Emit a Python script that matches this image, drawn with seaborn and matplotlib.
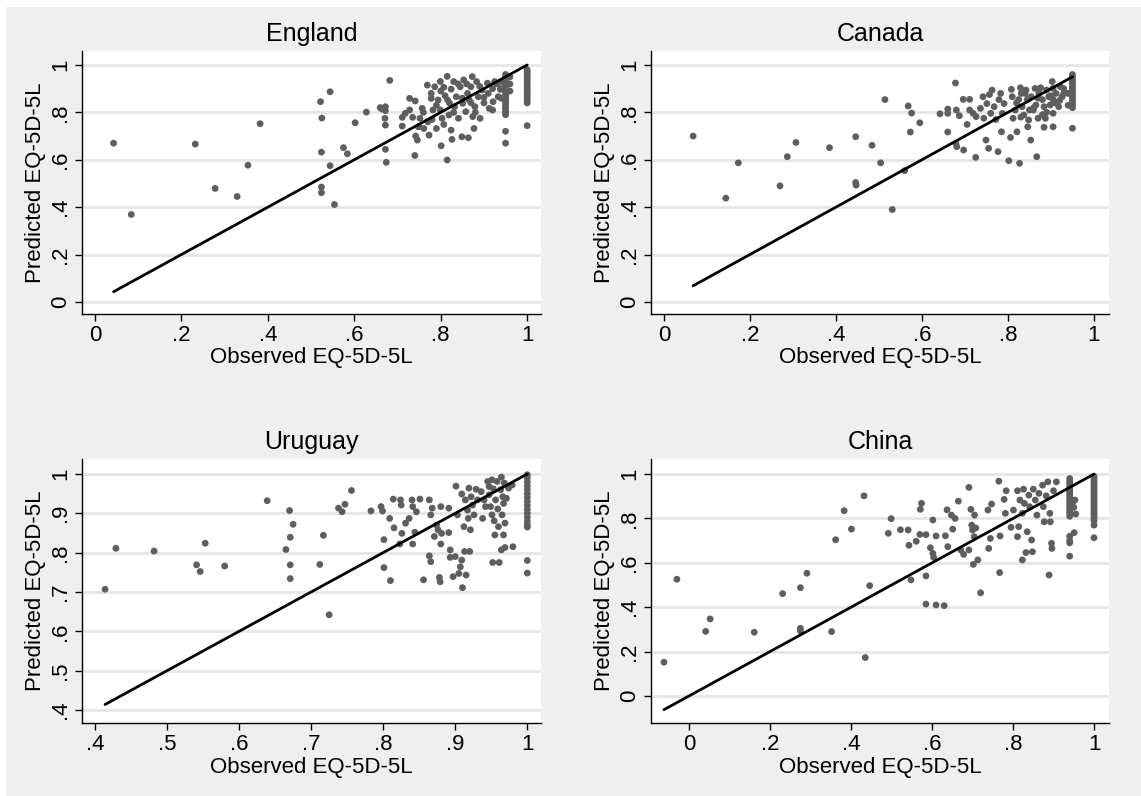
import matplotlib
matplotlib.use("Agg")
import matplotlib.pyplot as plt
import seaborn as sns
import pandas as pd
from matplotlib.patches import Rectangle

sns.set_theme(style="white")
plt.rcParams['font.family'] = ['Liberation Sans', 'DejaVu Sans']

countries = ["England", "Canada", "Uruguay", "China"]

# ---------------- England ----------------
england_obs = [0.043, 0.084, 0.232, 0.278, 0.329, 0.354, 0.382,
               0.522, 0.525, 0.524, 0.524, 0.524, 0.544, 0.544, 0.554, 0.575, 0.584, 0.602, 0.628,
               0.660, 0.664, 0.672, 0.672, 0.671, 0.672, 0.672, 0.674, 0.682,
               0.711, 0.711, 0.718, 0.728, 0.728, 0.735, 0.740, 0.741, 0.742, 0.746, 0.748, 0.752,
               0.757, 0.761, 0.769, 0.773, 0.778, 0.778, 0.782, 0.786, 0.790, 0.794, 0.799, 0.799,
               0.801, 0.803, 0.807, 0.807, 0.815, 0.815, 0.816, 0.819, 0.824, 0.824, 0.826, 0.830,
               0.832, 0.836, 0.841, 0.845, 0.849, 0.851, 0.853, 0.858, 0.862, 0.864, 0.866, 0.870,
               0.873, 0.874, 0.877, 0.879, 0.883, 0.887, 0.891, 0.896, 0.900, 0.908, 0.912, 0.921,
               0.925, 0.933, 0.938,
               0.76, 0.79, 0.81, 0.83, 0.85, 0.87, 0.89, 0.90, 0.92, 0.93, 0.80, 0.84, 0.86, 0.82,
               0.88, 0.91, 0.77, 0.75, 0.78, 0.92,
               0.95, 0.95, 0.95, 0.95, 0.95, 0.95, 0.95, 0.95, 0.95, 0.95, 0.95, 0.95, 0.95, 0.95,
               0.95, 0.95, 0.95, 0.95, 0.95, 0.95, 0.94, 0.94, 0.94, 0.96, 0.96, 0.96,
               1.0, 1.0, 1.0, 1.0, 1.0, 1.0, 1.0, 1.0, 1.0, 1.0, 1.0, 1.0, 1.0, 1.0, 1.0, 1.0]
england_pred = [0.670, 0.369, 0.666, 0.479, 0.445, 0.577, 0.752,
                0.845, 0.776, 0.632, 0.485, 0.461, 0.887, 0.575, 0.411, 0.651, 0.625, 0.756, 0.801,
                0.820, 0.814, 0.824, 0.807, 0.775, 0.746, 0.644, 0.589, 0.935,
                0.742, 0.779, 0.796, 0.859, 0.810, 0.779, 0.618, 0.848, 0.700, 0.683, 0.739, 0.775,
                0.817, 0.732, 0.915, 0.704, 0.880, 0.859, 0.810, 0.908, 0.732, 0.852, 0.930, 0.810,
                0.659, 0.775, 0.906, 0.749, 0.952, 0.599, 0.852, 0.789, 0.898, 0.725, 0.686, 0.930,
                0.824, 0.866, 0.775, 0.908, 0.697, 0.838, 0.937, 0.803, 0.880, 0.693, 0.852, 0.908,
                0.951, 0.782, 0.732, 0.824, 0.930, 0.866, 0.775, 0.894, 0.863, 0.923, 0.817, 0.845,
                0.930, 0.866, 0.897,
                0.80, 0.83, 0.87, 0.80, 0.86, 0.84, 0.91, 0.84, 0.90, 0.92, 0.89, 0.92, 0.92, 0.84,
                0.80, 0.88, 0.76, 0.74, 0.77, 0.81,
                0.96, 0.95, 0.94, 0.93, 0.92, 0.91, 0.90, 0.89, 0.88, 0.87, 0.86, 0.85, 0.84, 0.83,
                0.82, 0.81, 0.80, 0.79, 0.72, 0.67, 0.93, 0.90, 0.86, 0.95, 0.92, 0.89,
                0.98, 0.97, 0.96, 0.95, 0.94, 0.93, 0.92, 0.91, 0.90, 0.89, 0.88, 0.87, 0.86, 0.85, 0.84, 0.744]

# ---------------- Canada ----------------
canada_obs = [0.068, 0.144, 0.173, 0.270, 0.287, 0.307, 0.385, 0.446, 0.446, 0.447, 0.484, 0.504,
              0.514, 0.531, 0.560, 0.568, 0.576, 0.573, 0.595, 0.642, 0.660, 0.660, 0.660, 0.678,
              0.679, 0.681, 0.680, 0.687, 0.696, 0.697, 0.705, 0.711, 0.711, 0.719, 0.725, 0.726,
              0.736, 0.742, 0.744, 0.749, 0.751, 0.755, 0.757, 0.760, 0.763, 0.768, 0.772, 0.777,
              0.779, 0.783, 0.785, 0.787, 0.791, 0.802, 0.806, 0.808, 0.810, 0.812, 0.817, 0.821,
              0.825, 0.827, 0.829, 0.831, 0.833, 0.837, 0.842, 0.845, 0.846, 0.848, 0.853, 0.854,
              0.859, 0.863, 0.865, 0.867, 0.870, 0.872, 0.876, 0.880, 0.884, 0.884, 0.887, 0.890,
              0.895, 0.898, 0.903, 0.905, 0.905, 0.905, 0.905, 0.912, 0.918, 0.922, 0.926, 0.930,
              0.82, 0.84, 0.86, 0.88, 0.90, 0.92, 0.83, 0.85, 0.87, 0.89, 0.91, 0.93, 0.94, 0.94,
              0.95, 0.95, 0.95, 0.95, 0.95, 0.95, 0.95, 0.95, 0.95, 0.95, 0.95, 0.95, 0.95, 0.95,
              0.95, 0.95]
canada_pred = [0.700, 0.438, 0.587, 0.490, 0.613, 0.673, 0.651, 0.697, 0.504, 0.493, 0.661, 0.587,
               0.854, 0.390, 0.554, 0.827, 0.797, 0.717, 0.756, 0.794, 0.814, 0.796, 0.717, 0.924,
               0.669, 0.655, 0.810, 0.786, 0.855, 0.641, 0.749, 0.855, 0.810, 0.796, 0.610, 0.782,
               0.817, 0.866, 0.775, 0.683, 0.837, 0.648, 0.875, 0.796, 0.894, 0.824, 0.770, 0.634,
               0.854, 0.880, 0.718, 0.796, 0.837, 0.596, 0.694, 0.897, 0.866, 0.775, 0.810, 0.718,
               0.854, 0.585, 0.904, 0.880, 0.824, 0.789, 0.894, 0.854, 0.739, 0.768, 0.683, 0.866,
               0.810, 0.901, 0.831, 0.613, 0.775, 0.880, 0.904, 0.854, 0.824, 0.737, 0.775, 0.894,
               0.866, 0.831, 0.930, 0.901, 0.854, 0.796, 0.739, 0.880, 0.824, 0.908, 0.866, 0.880,
               0.84, 0.88, 0.82, 0.79, 0.87, 0.85, 0.78, 0.81, 0.86, 0.80, 0.84, 0.90, 0.88, 0.83,
               0.96, 0.95, 0.94, 0.93, 0.92, 0.91, 0.90, 0.89, 0.88, 0.87, 0.86, 0.85, 0.84, 0.83,
               0.82, 0.733]

# ---------------- Uruguay ----------------
uruguay_obs = [0.414, 0.429, 0.482, 0.541, 0.546, 0.553, 0.580, 0.639, 0.665, 0.670, 0.671, 0.671,
               0.671, 0.675, 0.712, 0.717, 0.725, 0.738, 0.743, 0.747, 0.756, 0.783, 0.797, 0.799,
               0.801, 0.801, 0.809, 0.810, 0.814, 0.815, 0.823, 0.824, 0.825, 0.826, 0.831, 0.836,
               0.840, 0.841, 0.841, 0.844, 0.846, 0.851, 0.856, 0.864, 0.864, 0.866, 0.866, 0.868,
               0.871, 0.874, 0.876, 0.878, 0.879, 0.880, 0.880, 0.881, 0.891, 0.891, 0.893, 0.893,
               0.897, 0.900, 0.901, 0.903, 0.905, 0.907, 0.909, 0.910, 0.909, 0.912, 0.913, 0.914,
               0.915, 0.917, 0.918, 0.919, 0.920, 0.921, 0.922, 0.924, 0.926, 0.929, 0.931, 0.936,
               0.938, 0.940, 0.942, 0.945, 0.947, 0.947, 0.949, 0.951, 0.951, 0.952, 0.953, 0.954,
               0.955, 0.956, 0.958, 0.959, 0.960, 0.961, 0.963, 0.964, 0.964, 0.965, 0.966, 0.967,
               0.968, 0.969, 0.969, 0.971, 0.974, 0.967, 0.979, 0.980,
               1.0, 1.0, 1.0, 1.0, 1.0, 1.0, 1.0, 1.0, 1.0, 1.0, 1.0, 1.0, 1.0, 1.0, 1.0, 1.0, 1.0]
uruguay_pred = [0.707, 0.811, 0.804, 0.769, 0.752, 0.824, 0.766, 0.932, 0.808, 0.907, 0.839, 0.769,
                0.734, 0.872, 0.770, 0.844, 0.642, 0.913, 0.904, 0.923, 0.958, 0.906, 0.917, 0.906,
                0.833, 0.762, 0.887, 0.729, 0.936, 0.863, 0.822, 0.934, 0.921, 0.849, 0.875, 0.887,
                0.934, 0.917, 0.822, 0.852, 0.904, 0.936, 0.731, 0.934, 0.792, 0.777, 0.896, 0.913,
                0.841, 0.870, 0.858, 0.737, 0.726, 0.917, 0.822, 0.849, 0.913, 0.851, 0.807, 0.788,
                0.739, 0.790, 0.969, 0.896, 0.747, 0.764, 0.781, 0.711, 0.949, 0.866, 0.803, 0.934,
                0.743, 0.908, 0.887, 0.964, 0.803, 0.858, 0.942, 0.921, 0.896, 0.961, 0.934, 0.955,
                0.887, 0.934, 0.917, 0.981, 0.947, 0.968, 0.917, 0.985, 0.896, 0.775, 0.962, 0.881,
                0.845, 0.934, 0.981, 0.911, 0.866, 0.775, 0.960, 0.992, 0.807, 0.896, 0.942, 0.845,
                0.977, 0.875, 0.813, 0.938, 0.964, 0.925, 0.972, 0.815,
                0.998, 0.99, 0.98, 0.97, 0.96, 0.95, 0.94, 0.93, 0.92, 0.91, 0.90, 0.89, 0.88, 0.87,
                0.865, 0.78, 0.748]

# ---------------- China ----------------
china_obs = [-0.062, -0.030, 0.041, 0.052, 0.161, 0.231, 0.275, 0.275, 0.275, 0.291, 0.352, 0.362,
             0.383, 0.401, 0.432, 0.435, 0.446, 0.492, 0.499, 0.522, 0.541, 0.543, 0.548, 0.561,
             0.571, 0.574, 0.570, 0.585, 0.585, 0.585, 0.596, 0.602, 0.602, 0.604, 0.610, 0.610,
             0.630, 0.633, 0.637, 0.639, 0.648, 0.651, 0.657, 0.665, 0.671, 0.678, 0.691, 0.691,
             0.696, 0.698, 0.700, 0.702, 0.704, 0.705, 0.708, 0.713, 0.720, 0.738, 0.740, 0.744,
             0.747, 0.765, 0.767, 0.768, 0.778, 0.781, 0.783, 0.795, 0.801, 0.811, 0.811, 0.814,
             0.817, 0.823, 0.823, 0.826, 0.828, 0.832, 0.835, 0.839, 0.841, 0.846, 0.848, 0.850,
             0.855, 0.859, 0.864, 0.873, 0.875, 0.877, 0.882, 0.886, 0.889, 0.891, 0.892, 0.895,
             0.896, 0.900, 0.907, 0.951, 0.953, 0.95, 0.955, 0.95, 0.945,
             0.94, 0.94, 0.94, 0.94, 0.94, 0.94, 0.94, 0.94, 0.94, 0.94, 0.94, 0.94, 0.94, 0.94,
             0.94, 0.94, 0.94, 0.94, 0.94, 0.94, 0.94, 0.94,
             1.0, 1.0, 1.0, 1.0, 1.0, 1.0, 1.0, 1.0, 1.0, 1.0, 1.0, 1.0, 1.0, 1.0, 1.0, 1.0, 1.0,
             1.0, 1.0, 1.0, 1.0, 1.0, 1.0]
china_pred = [0.152, 0.526, 0.291, 0.347, 0.287, 0.461, 0.488, 0.305, 0.293, 0.553, 0.290, 0.704,
              0.835, 0.752, 0.902, 0.173, 0.497, 0.733, 0.799, 0.749, 0.748, 0.679, 0.523, 0.697,
              0.841, 0.868, 0.728, 0.727, 0.541, 0.414, 0.668, 0.793, 0.643, 0.625, 0.721, 0.410,
              0.407, 0.722, 0.839, 0.673, 0.815, 0.752, 0.800, 0.878, 0.658, 0.638, 0.940, 0.658,
              0.841, 0.770, 0.748, 0.593, 0.718, 0.815, 0.757, 0.613, 0.465, 0.838, 0.665, 0.710,
              0.865, 0.968, 0.556, 0.721, 0.886, 0.823, 0.925, 0.760, 0.838, 0.925, 0.718, 0.763,
              0.883, 0.613, 0.823, 0.932, 0.868, 0.646, 0.740, 0.905, 0.853, 0.703, 0.650, 0.932,
              0.883, 0.815, 0.913, 0.950, 0.853, 0.785, 0.902, 0.965, 0.545, 0.823, 0.785, 0.688,
              0.665, 0.925, 0.965, 0.736, 0.883, 0.85, 0.82, 0.88, 0.86,
              0.98, 0.97, 0.96, 0.95, 0.94, 0.93, 0.92, 0.91, 0.90, 0.89, 0.88, 0.87, 0.86, 0.85,
              0.84, 0.83, 0.82, 0.81, 0.72, 0.70, 0.69, 0.63,
              0.99, 0.98, 0.97, 0.96, 0.95, 0.94, 0.93, 0.92, 0.91, 0.90, 0.89, 0.88, 0.87, 0.86,
              0.85, 0.84, 0.83, 0.82, 0.81, 0.80, 0.79, 0.77, 0.713]

# tick values and axis ranges
ticks_01 = [0, 0.2, 0.4, 0.6, 0.8, 1.0]
ticks_uy = [0.4, 0.5, 0.6, 0.7, 0.8, 0.9, 1.0]

panels = {
    "England": dict(obs=england_obs, pred=england_pred, xt=ticks_01, yt=ticks_01,
                    xlim=(-0.030, 1.032), ylim=(-0.051, 1.059),
                    pos=[82, 314, 459, 263]),
    "Canada": dict(obs=canada_obs, pred=canada_pred, xt=ticks_01, yt=ticks_01,
                   xlim=(-0.030, 1.035), ylim=(-0.051, 1.059),
                   pos=[651, 314, 458, 263]),
    "Uruguay": dict(obs=uruguay_obs, pred=uruguay_pred, xt=ticks_uy, yt=ticks_uy,
                    xlim=(0.382, 1.019), ylim=(0.367, 1.038),
                    pos=[82, 723, 459, 264]),
    "China": dict(obs=china_obs, pred=china_pred, xt=ticks_01, yt=ticks_01,
                  xlim=(-0.094, 1.037), ylim=(-0.122, 1.068),
                  pos=[651, 723, 458, 264]),
}


def stata_fmt(v):
    s = f"{v:g}"
    if s.startswith("0."):
        s = s[1:]
    return s


W, H = 1141, 796
fig = plt.figure(figsize=(W / 100, H / 100), dpi=100)
fig.patch.set_facecolor("white")
fig.patches.append(Rectangle((6 / W, 0), 1, (H - 7) / H, transform=fig.transFigure,
                             facecolor="#efefef", edgecolor="none", zorder=-10))

for name in countries:
    p = panels[name]
    l, b, w, h = p["pos"]
    ax = fig.add_axes([l / W, 1 - b / H, w / W, h / H])
    ax.set_facecolor("white")
    df = pd.DataFrame({"obs": p["obs"], "pred": p["pred"]})
    sns.scatterplot(data=df, x="obs", y="pred", ax=ax, color="#5e5e5e", s=24,
                    edgecolor="none", linewidth=0, zorder=3)
    lo, hi = min(p["obs"]), max(p["obs"])
    line_df = pd.DataFrame({"x": [lo, hi], "y": [lo, hi]})
    sns.lineplot(data=line_df, x="x", y="y", ax=ax, color="black", linewidth=2.0,
                 zorder=4, estimator=None)
    ax.set_xlim(*p["xlim"])
    ax.set_ylim(*p["ylim"])
    ax.set_xticks(p["xt"])
    ax.set_yticks(p["yt"])
    ax.set_xticklabels([stata_fmt(v) for v in p["xt"]])
    ax.set_yticklabels([stata_fmt(v) for v in p["yt"]], rotation=90, va="center")
    for s in ["top", "right"]:
        ax.spines[s].set_visible(False)
    for s in ["left", "bottom"]:
        ax.spines[s].set_color("black")
        ax.spines[s].set_linewidth(1.0)
    ax.yaxis.grid(True, color="#e6e6e6", linewidth=2)
    ax.xaxis.grid(False)
    ax.set_axisbelow(True)
    ax.tick_params(axis="both", direction="out", length=5, width=1, color="black",
                   labelsize=16, labelcolor="black", bottom=True, left=True, pad=3)
    ax.set_xlabel("Observed EQ-5D-5L", fontsize=16, color="black", labelpad=1)
    ax.set_ylabel("Predicted EQ-5D-5L", fontsize=16, color="black", labelpad=3)
    ax.set_title(name, fontsize=18, color="black", pad=7)

fig.savefig("out.png", dpi=100, facecolor=fig.get_facecolor())
